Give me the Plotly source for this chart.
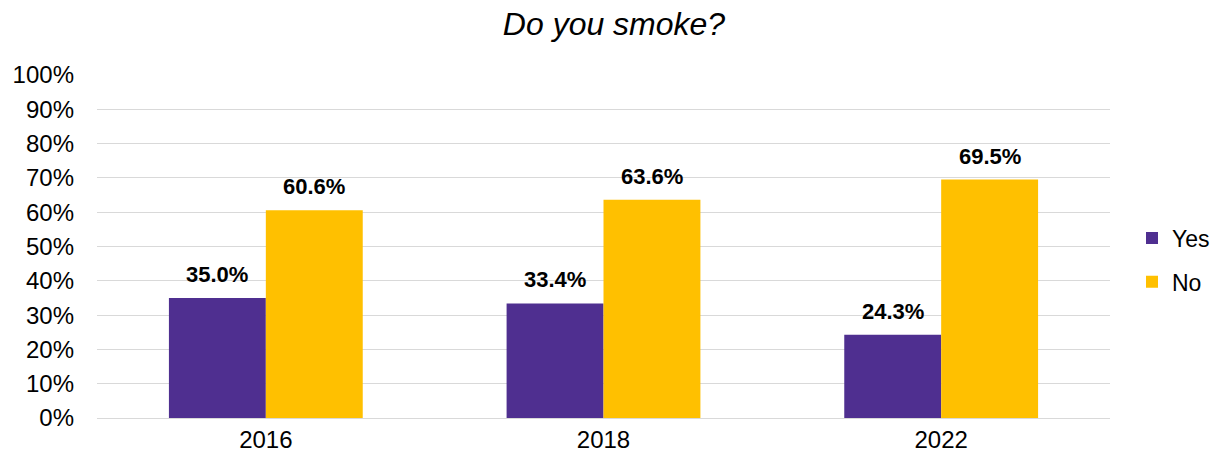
import plotly.graph_objects as go

years = ["2016", "2018", "2022"]
yes_vals = [35.0, 33.4, 24.3]
no_vals = [60.6, 63.6, 69.5]
y_ticks = list(range(0, 101, 10))

FONT = "Liberation Sans, Arial, sans-serif"
BARGAP = 0.426
half = (1 - BARGAP) / 4  # offset of each bar centre from the category centre

fig = go.Figure()
fig.add_bar(name="Yes", x=years, y=yes_vals, marker_color="#4F2F90",
            marker_line_width=0, legendgroup="yes")
fig.add_bar(name="No", x=years, y=no_vals, marker_color="#FFC000",
            marker_line_width=0, legendgroup="no")

# value labels above each bar
annotations = []
for i in range(len(years)):
    for off, vals in ((-half, yes_vals), (half, no_vals)):
        annotations.append(dict(
            x=i + off, y=vals[i], xref="x", yref="y",
            text=f"<b>{vals[i]:.1f}%</b>", showarrow=False,
            yanchor="bottom", yshift=9,
            font=dict(family=FONT, size=22, color="black"),
        ))

fig.update_layout(
    width=1217, height=457,
    margin=dict(l=97, r=107, t=75, b=39),
    paper_bgcolor="white", plot_bgcolor="white",
    font=dict(family=FONT, color="black"),
    barmode="group", bargap=BARGAP, bargroupgap=0,
    title=dict(text="<i>Do you smoke?</i>", xref="container",
               x=614 / 1217, xanchor="center",
               y=1 - 24 / 457, yanchor="middle",
               font=dict(family=FONT, size=32, color="black")),
    legend=dict(xref="container", yref="container",
                x=1132 / 1217, xanchor="left",
                y=1 - 260 / 457, yanchor="middle",
                font=dict(family=FONT, size=23), itemwidth=30,
                tracegroupgap=11, bgcolor="rgba(0,0,0,0)"),
    xaxis=dict(tickfont=dict(family=FONT, size=24), showline=True,
               linecolor="#D9D9D9", linewidth=1, ticks="", automargin=False),
    yaxis=dict(range=[0, 100], tickvals=y_ticks,
               ticktext=[f"{t}%" for t in y_ticks],
               tickfont=dict(family=FONT, size=24), gridcolor="#D9D9D9",
               gridwidth=1, zeroline=False, ticks="", ticklabelstandoff=22,
               automargin=False),
    annotations=annotations,
)

fig.write_html("out.html")
